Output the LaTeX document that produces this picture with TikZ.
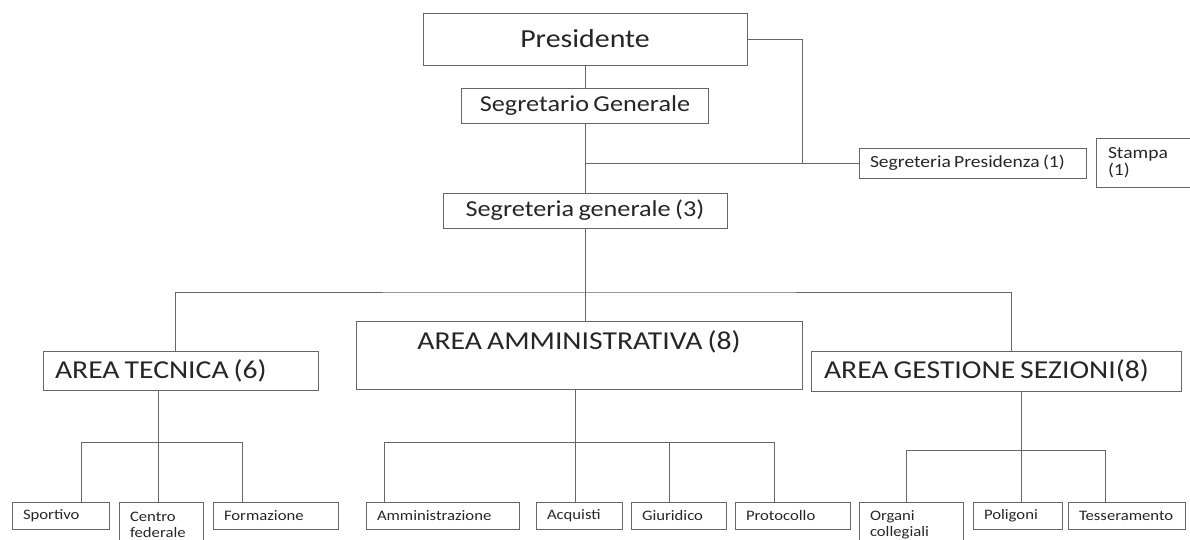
\documentclass[tikz,border=0pt]{standalone}
\usepackage{fontspec}
\setmainfont{Carlito}[FakeStretch=1.15, WordSpace=0.75]

\tikzset{
  box/.style={draw=black!60, line width=0.9pt, text=black!85, inner ysep=0pt},
  unit/.style={box, font=\fontsize{14.5}{16}\selectfont, minimum height=27pt,
    inner xsep=11pt, align=flush left},
  area/.style={box, font=\fontsize{25.8}{30}\selectfont},
  link/.style={draw=black!60, line width=0.9pt},
}

\begin{document}
\begin{tikzpicture}[x=1pt,y=-1pt]
    \useasboundingbox (0,0) rectangle (1190,539);

    % Top of the chart
    \node[box, minimum width=324pt, minimum height=52pt, font=\fontsize{26}{30}\selectfont]
        (pres) at (585,39) {Presidente};
    \node[box, minimum width=247pt, minimum height=35pt, font=\fontsize{22.8}{26}\selectfont]
        (segr) at (585,105.5) {Segretario Generale};
    \node[box, minimum width=284pt, minimum height=35pt, font=\fontsize{22.8}{26}\selectfont]
        (segrgen) at (585,210.5) {Segreteria generale (3)};
    \node[box, text width=205pt, inner xsep=11pt, minimum height=30pt, align=flush left,
        font=\fontsize{17}{18}\selectfont] (segrpres) at (972.5,163) {Segreteria Presidenza (1)};
    \node[box, text width=72pt, inner xsep=12pt, minimum height=49pt, align=flush left,
        font=\fontsize{17}{17}\selectfont] (stampa) at (1144,162.5) {Stampa\\(1)};

    % The three areas
    \node[area, text width=251pt, inner xsep=12pt, minimum height=39pt, align=flush left]
        (tecnica) at (180.5,370.5) {AREA TECNICA (6)};
    \node[area, minimum width=446pt, text height=28pt, text depth=40pt]
        (ammin) at (579,355) {AREA AMMINISTRATIVA (8)};
    \node[area, text width=344pt, inner xsep=13pt, minimum height=40pt, align=flush left]
        (gestione) at (996,371) {AREA GESTIONE SEZIONI(8)};

    % Offices under the areas
    \foreach \n/\x/\w/\t in {sportivo/60.5/75/Sportivo, formazione/275.5/103/Formazione,
        amministrazione/442.5/131/Amministrazione, acquisti/579/64/Acquisti,
        giuridico/678.5/73/Giuridico, protocollo/792.5/93/Protocollo,
        poligoni/1017.5/67/Poligoni, tesseramento/1126.5/95/Tesseramento} {
        \node[unit, text width=\w pt] (\n) at (\x,515.5) {\t};
    }
    \node[unit, text width=62pt, minimum height=46pt] (centro) at (161,525) {Centro\\federale};
    \node[unit, text width=82pt, minimum height=46pt] (organi) at (911,525) {Organi\\collegiali};

    % Junctions
    \coordinate (j1) at (585,163);
    \coordinate (k1) at (802,163);
    \coordinate (bus) at (585,292);
    \coordinate (tb) at (158,442);
    \coordinate (ab) at (575,442);
    \coordinate (gb) at (1021,450);

    % Presidenza lines
    \draw[link] (pres.south) -- (segr.north);
    \draw[link] (segr.south) -- (segrgen.north);
    \draw[link] (pres.east) -| (k1);
    \draw[link] (j1) -- (segrpres.west);
    \draw[link] (segrgen.south) -- (ammin.north -| segrgen.south);

    % Bus to the areas
    \draw[link] ([xshift=-5.5pt]tecnica.north) |- (bus) -| ([xshift=15pt]gestione.north);

    % Area tecnica
    \draw[link] (tecnica.south -| tb) -- ([xshift=-3pt]centro.north);
    \draw[link] ([xshift=20.5pt]sportivo.north) |- (tb) -| ([xshift=-33.5pt]formazione.north);

    % Area amministrativa
    \draw[link] (ammin.south -| ab) -- ([xshift=-4pt]acquisti.north);
    \draw[link] ([xshift=-58.5pt]amministrazione.north) |- (ab) -| ([xshift=-18.5pt]protocollo.north);
    \draw[link] ([xshift=-9.5pt]giuridico.north) -- ([xshift=-9.5pt]giuridico.north |- ab);

    % Area gestione sezioni
    \draw[link] (gestione.south -| gb) -- ([xshift=3.5pt]poligoni.north);
    \draw[link] ([xshift=-5pt]organi.north) |- (gb) -| ([xshift=-21.5pt]tesseramento.north);

\end{tikzpicture}
\end{document}
